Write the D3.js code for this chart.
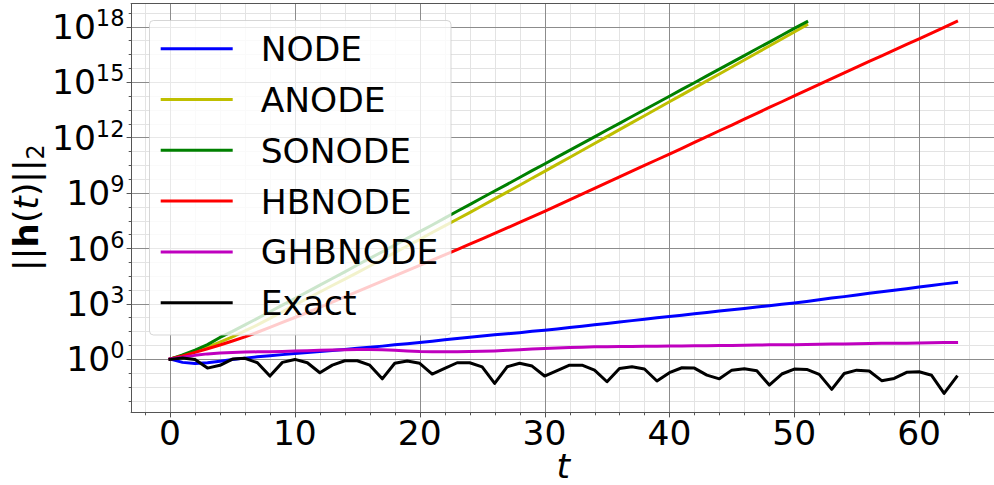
<!DOCTYPE html>
<html>
<head>
<meta charset="utf-8">
<script src="https://cdn.jsdelivr.net/npm/d3@7"></script>
<style>
  body { margin: 0; background: #fff; }
  svg { display: block; font-family: "DejaVu Sans", sans-serif; }
</style>
</head>
<body>
<svg id="chart" width="994" height="485"></svg>
<script>
// Norm of the hidden state over time, stored as log10 ||h(t)||_2 at t = 0, 1, 2, ...
const seriesNames  = ["NODE", "ANODE", "SONODE", "HBNODE", "GHBNODE", "Exact"];
const seriesColors = ["#0000ff", "#bfbf00", "#008000", "#ff0000", "#bf00bf", "#000000"];

const nodeLog = [0, -0.18, -0.24, -0.2, -0.12, -0.03, 0.05, 0.12, 0.18, 0.24,
  0.3, 0.35, 0.41, 0.46, 0.52, 0.58, 0.64, 0.7, 0.77, 0.83,
  0.9, 0.97, 1.04, 1.11, 1.18, 1.25, 1.31, 1.37, 1.43, 1.5,
  1.56, 1.63, 1.71, 1.78, 1.86, 1.93, 2.0, 2.08, 2.15, 2.23,
  2.3, 2.37, 2.45, 2.52, 2.6, 2.67, 2.74, 2.82, 2.89, 2.97,
  3.04, 3.12, 3.21, 3.3, 3.38, 3.47, 3.56, 3.64, 3.73, 3.81,
  3.9, 3.98, 4.07, 4.15];

const anodeLog = [0, 0.18, 0.4, 0.65, 0.92, 1.2, 1.52, 1.85, 2.2, 2.56,
  2.93, 3.28, 3.63, 3.98, 4.33, 4.68, 5.04, 5.4, 5.76, 6.12,
  6.48, 6.85, 7.21, 7.57, 7.93, 8.3, 8.67, 9.04, 9.41, 9.79,
  10.16, 10.54, 10.91, 11.29, 11.67, 12.04, 12.42, 12.8, 13.17, 13.55,
  13.93, 14.3, 14.68, 15.06, 15.43, 15.81, 16.19, 16.57, 16.95, 17.33,
  17.71, 18.09];

const sonodeLog = [0, 0.22, 0.48, 0.78, 1.17, 1.5, 1.85, 2.2, 2.56, 2.92,
  3.28, 3.64, 4.0, 4.36, 4.72, 5.09, 5.45, 5.81, 6.17, 6.53,
  6.9, 7.26, 7.63, 8.0, 8.36, 8.73, 9.1, 9.46, 9.83, 10.2,
  10.56, 10.93, 11.3, 11.66, 12.03, 12.4, 12.76, 13.13, 13.5, 13.86,
  14.23, 14.6, 14.96, 15.33, 15.7, 16.06, 16.43, 16.8, 17.16, 17.53,
  17.9, 18.26];

const hbnodeLog = [0, 0.17, 0.36, 0.56, 0.76, 0.98, 1.2, 1.45, 1.71, 1.98,
  2.25, 2.52, 2.8, 3.08, 3.37, 3.65, 3.93, 4.22, 4.5, 4.79,
  5.07, 5.36, 5.64, 5.93, 6.22, 6.51, 6.8, 7.1, 7.4, 7.7,
  8.0, 8.31, 8.62, 8.93, 9.24, 9.55, 9.86, 10.17, 10.48, 10.79,
  11.1, 11.41, 11.73, 12.04, 12.36, 12.67, 12.99, 13.3, 13.62, 13.93,
  14.25, 14.56, 14.87, 15.18, 15.49, 15.8, 16.11, 16.42, 16.73, 17.03,
  17.34, 17.65, 17.96, 18.27];

const ghbnodeLog = [0, 0.1, 0.2, 0.28, 0.33, 0.36, 0.38, 0.39, 0.4, 0.41,
  0.43, 0.45, 0.47, 0.49, 0.51, 0.52, 0.52, 0.5, 0.47, 0.44,
  0.41, 0.4, 0.4, 0.4, 0.41, 0.42, 0.44, 0.47, 0.5, 0.54,
  0.57, 0.6, 0.62, 0.64, 0.66, 0.67, 0.68, 0.68, 0.69, 0.69,
  0.7, 0.71, 0.72, 0.72, 0.73, 0.74, 0.75, 0.76, 0.77, 0.77,
  0.78, 0.79, 0.8, 0.81, 0.82, 0.83, 0.84, 0.85, 0.86, 0.86,
  0.87, 0.88, 0.89, 0.9];

const exactLog = [-0.02, 0.06, -0.03, -0.49, -0.34, 0.0, 0.04, -0.2, -0.92, -0.18,
  -0.02, -0.2, -0.74, -0.33, -0.09, -0.09, -0.33, -1.07, -0.23, -0.11,
  -0.23, -0.81, -0.51, -0.2, -0.2, -0.42, -1.32, -0.42, -0.23, -0.38,
  -0.92, -0.63, -0.33, -0.33, -0.6, -1.23, -0.51, -0.42, -0.54, -1.19,
  -0.74, -0.47, -0.49, -0.87, -1.07, -0.6, -0.52, -0.63, -1.41, -0.81,
  -0.54, -0.56, -0.83, -1.64, -0.78, -0.6, -0.65, -1.17, -1.05, -0.72,
  -0.69, -0.88, -1.86, -0.96];

const seriesLog = [nodeLog, anodeLog, sonodeLog, hbnodeLog, ghbnodeLog, exactLog];

const xMajorTicks = [0, 10, 20, 30, 40, 50, 60];
const yMajorExponents = [0, 3, 6, 9, 12, 15, 18];

// ---- layout ----
const plot = { left: 130.7, top: 3, right: 995.9, bottom: 412 };
const fontSize = 34.5;

const svg = d3.select("#chart");

// x: t from 0..63 with 5% padding on each side
const tMax = d3.max(seriesLog, s => s.length - 1);
const xPad = 0.05 * tMax;
const x = d3.scaleLinear().domain([-xPad, tMax + xPad]).range([plot.left, plot.right]);

// y: log scale with 5% padding (in decades) on each side
const allLog = seriesLog.flat();
const [lo, hi] = d3.extent(allLog);
const yPad = 0.05 * (hi - lo);
const y = d3.scaleLog().domain([10 ** (lo - yPad), 10 ** (hi + yPad)]).range([plot.bottom, plot.top]);

const [xd0, xd1] = x.domain();
const [ld0, ld1] = [lo - yPad, hi + yPad];

const xMinorTicks = d3.range(Math.ceil(xd0 / 2) * 2, xd1, 2).filter(v => v % 10 !== 0);
const yMinorExponents = d3.range(Math.ceil(ld0 / 0.75), Math.floor(ld1 / 0.75) + 1)
  .map(k => k * 0.75).filter(e => Math.abs(e / 3 - Math.round(e / 3)) > 1e-9);

const snap = v => Math.round(v) + 0.5;

// ---- grid ----
const grid = svg.append("g");
xMinorTicks.forEach(v => grid.append("line")
  .attr("x1", snap(x(v))).attr("x2", snap(x(v))).attr("y1", plot.top).attr("y2", plot.bottom)
  .attr("stroke", "#e3e3e3").attr("stroke-width", 1));
yMinorExponents.forEach(e => grid.append("line")
  .attr("y1", snap(y(10 ** e))).attr("y2", snap(y(10 ** e))).attr("x1", plot.left).attr("x2", plot.right)
  .attr("stroke", "#e3e3e3").attr("stroke-width", 1));
xMajorTicks.forEach(v => grid.append("line")
  .attr("x1", snap(x(v))).attr("x2", snap(x(v))).attr("y1", plot.top).attr("y2", plot.bottom)
  .attr("stroke", "#8c8c8c").attr("stroke-width", 1));
yMajorExponents.forEach(e => grid.append("line")
  .attr("y1", snap(y(10 ** e))).attr("y2", snap(y(10 ** e))).attr("x1", plot.left).attr("x2", plot.right)
  .attr("stroke", "#8c8c8c").attr("stroke-width", 1));

// ---- series ----
svg.append("defs").append("clipPath").attr("id", "plotClip")
  .append("rect").attr("x", plot.left).attr("y", plot.top)
  .attr("width", plot.right - plot.left).attr("height", plot.bottom - plot.top);

const line = d3.line().x((d, i) => x(i)).y(d => y(10 ** d));
const lines = svg.append("g").attr("clip-path", "url(#plotClip)");
seriesLog.forEach((s, i) => {
  lines.append("path").datum(s)
    .attr("d", line)
    .attr("fill", "none")
    .attr("stroke", seriesColors[i])
    .attr("stroke-width", 3)
    .attr("stroke-linejoin", "round")
    .attr("stroke-linecap", "square");
});

// ---- axes ----
const axisColor = "#555555";
const axes = svg.append("g");
axes.append("line").attr("x1", snap(plot.left)).attr("x2", snap(plot.left))
  .attr("y1", plot.top).attr("y2", plot.bottom + 0.5).attr("stroke", axisColor);
axes.append("line").attr("x1", plot.left).attr("x2", plot.right)
  .attr("y1", snap(plot.bottom)).attr("y2", snap(plot.bottom)).attr("stroke", axisColor);
axes.append("line").attr("x1", plot.left).attr("x2", plot.right)
  .attr("y1", snap(plot.top)).attr("y2", snap(plot.top)).attr("stroke", axisColor);
axes.append("line").attr("x1", snap(plot.right)).attr("x2", snap(plot.right))
  .attr("y1", plot.top).attr("y2", plot.bottom).attr("stroke", axisColor);

// x ticks
xMinorTicks.forEach(v => axes.append("line")
  .attr("x1", snap(x(v))).attr("x2", snap(x(v)))
  .attr("y1", snap(plot.bottom)).attr("y2", snap(plot.bottom) + 2.8).attr("stroke", axisColor));
xMajorTicks.forEach(v => {
  axes.append("line").attr("x1", snap(x(v))).attr("x2", snap(x(v)))
    .attr("y1", snap(plot.bottom)).attr("y2", snap(plot.bottom) + 4.9).attr("stroke", axisColor);
  axes.append("text").attr("x", x(v)).attr("y", 445)
    .attr("text-anchor", "middle").attr("font-size", fontSize).attr("fill", "#000")
    .text(v);
});

// y ticks: 10 with a raised exponent
yMinorExponents.forEach(e => axes.append("line")
  .attr("y1", snap(y(10 ** e))).attr("y2", snap(y(10 ** e)))
  .attr("x1", snap(plot.left)).attr("x2", snap(plot.left) - 2.8).attr("stroke", axisColor));
yMajorExponents.forEach(e => {
  const yy = y(10 ** e);
  axes.append("line").attr("y1", snap(yy)).attr("y2", snap(yy))
    .attr("x1", snap(plot.left)).attr("x2", snap(plot.left) - 4.9).attr("stroke", axisColor);
  const t = axes.append("text").attr("x", 124.5).attr("y", yy + 12.3)
    .attr("text-anchor", "end").attr("font-size", fontSize).attr("fill", "#000");
  t.append("tspan").text("10");
  t.append("tspan").attr("dy", -13).attr("font-size", 22.5).text(e);
});

// axis labels
svg.append("text").attr("x", (plot.left + plot.right) / 2).attr("y", 478)
  .attr("text-anchor", "middle").attr("font-size", fontSize).attr("font-style", "italic")
  .text("t");

const yl = svg.append("text")
  .attr("transform", `translate(38,${(plot.top + plot.bottom) / 2}) rotate(-90)`)
  .attr("text-anchor", "middle").attr("font-size", fontSize);
yl.append("tspan").text("||");
yl.append("tspan").attr("font-weight", "bold").text("h");
yl.append("tspan").text("(");
yl.append("tspan").attr("font-style", "italic").text("t");
yl.append("tspan").text(")");
yl.append("tspan").text("||");
yl.append("tspan").attr("font-size", 24).attr("dy", 6).text("2");

// ---- legend ----
const legend = svg.append("g");
legend.append("rect")
  .attr("x", 149.5).attr("y", 20.5).attr("width", 301.5).attr("height", 314.5)
  .attr("rx", 4).attr("ry", 4)
  .attr("fill", "#ffffff").attr("fill-opacity", 0.8)
  .attr("stroke", "#cccccc").attr("stroke-opacity", 0.8).attr("stroke-width", 1);
seriesNames.forEach((name, i) => {
  const ly = 48.7 + i * 50.8;
  legend.append("line").attr("x1", 160.7).attr("x2", 232.7).attr("y1", ly).attr("y2", ly)
    .attr("stroke", seriesColors[i]).attr("stroke-width", 3);
  legend.append("text").attr("x", 260.7).attr("y", ly + 12.4)
    .attr("font-size", fontSize).attr("fill", "#000").text(name);
});
</script>
</body>
</html>
